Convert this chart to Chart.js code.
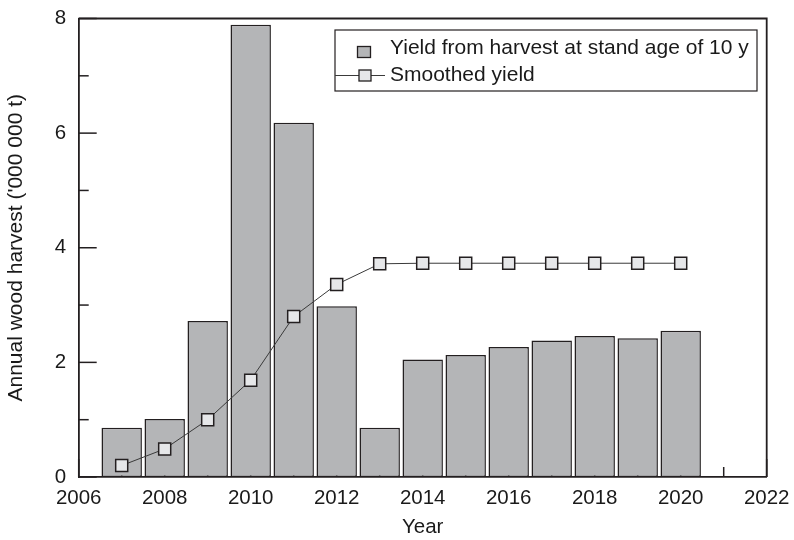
<!DOCTYPE html>
<html>
<head>
<meta charset="utf-8">
<script src="https://cdn.jsdelivr.net/npm/chart.js@4"></script>
<style>
  html, body { margin: 0; padding: 0; background: #fff; }
  #wrap { width: 794px; height: 540px; }
</style>
</head>
<body>
<div id="wrap"><canvas id="myChart" width="794" height="540"></canvas></div>
<script>
// data
const years = [2007, 2008, 2009, 2010, 2011, 2012, 2013, 2014, 2015, 2016, 2017, 2018, 2019, 2020];
const harvest = [0.86, 1.01, 2.72, 7.89, 6.18, 2.98, 0.86, 2.05, 2.13, 2.27, 2.38, 2.46, 2.42, 2.55];
const smoothed = [0.2, 0.49, 1.0, 1.69, 2.8, 3.36, 3.72, 3.73, 3.73, 3.73, 3.73, 3.73, 3.73, 3.73];
const xTicks = [2006, 2008, 2010, 2012, 2014, 2016, 2018, 2020, 2022];
const yTicks = [0, 2, 4, 6, 8];
const seriesNames = ["Yield from harvest at stand age of 10 y", "Smoothed yield"];

const ink = "#231f20";
const barGrey = "#b4b5b7";
const markGrey = "#e6e7e9";
const fontFam = "'Liberation Sans', Arial, sans-serif";

// inward tick marks, drawn under the bars
const tickPlugin = {
  id: "inTicks",
  beforeDatasetsDraw(chart) {
    const ctx = chart.ctx;
    const xs = chart.scales.x, ys = chart.scales.y;
    const area = chart.chartArea;
    ctx.save();
    ctx.strokeStyle = ink;
    ctx.lineWidth = 1.5;
    xs.ticks.forEach((t) => {
      const px = xs.getPixelForValue(t.value);
      const len = xTicks.includes(t.value) ? 18 : 10;
      ctx.beginPath();
      ctx.moveTo(px, area.bottom);
      ctx.lineTo(px, area.bottom - len);
      ctx.stroke();
    });
    ys.ticks.forEach((t) => {
      const py = ys.getPixelForValue(t.value);
      const len = yTicks.includes(t.value) ? 18 : 10;
      ctx.beginPath();
      ctx.moveTo(area.left, py);
      ctx.lineTo(area.left + len, py);
      ctx.stroke();
    });
    ctx.restore();
  },
  afterDatasetsDraw(chart) {
    // top and right frame lines
    const ctx = chart.ctx;
    const a = chart.chartArea;
    ctx.save();
    ctx.strokeStyle = ink;
    ctx.lineWidth = 1.8;
    ctx.beginPath();
    ctx.moveTo(a.left, a.top);
    ctx.lineTo(a.right, a.top);
    ctx.lineTo(a.right, a.bottom);
    ctx.stroke();
    ctx.restore();
  },
};

// legend box inside the plot
const legendPlugin = {
  id: "boxLegend",
  afterDraw(chart) {
    const ctx = chart.ctx;
    ctx.save();
    ctx.fillStyle = "#fff";
    ctx.fillRect(335, 30, 422, 61);
    ctx.strokeStyle = ink;
    ctx.lineWidth = 1.2;
    ctx.strokeRect(335, 30, 422, 61);

    // bar swatch
    ctx.fillStyle = barGrey;
    ctx.fillRect(357.5, 46.5, 13, 11);
    ctx.lineWidth = 1.3;
    ctx.strokeRect(357.5, 46.5, 13, 11);

    // line + marker swatch
    ctx.strokeStyle = "#3a3a3a";
    ctx.lineWidth = 1;
    ctx.beginPath();
    ctx.moveTo(335, 75.5);
    ctx.lineTo(385, 75.5);
    ctx.stroke();
    ctx.fillStyle = markGrey;
    ctx.fillRect(359, 70, 12, 11);
    ctx.strokeStyle = ink;
    ctx.lineWidth = 1.3;
    ctx.strokeRect(359, 70, 12, 11);

    ctx.fillStyle = "#1a1a1a";
    ctx.font = "21px " + fontFam;
    ctx.textBaseline = "alphabetic";
    ctx.fillText(seriesNames[0], 390, 54);
    ctx.fillText(seriesNames[1], 390, 81);
    ctx.restore();
  },
};

const context = document.getElementById("myChart").getContext("2d");
const myChart = new Chart(context, {
  type: "bar",
  data: {
    datasets: [
      {
        type: "line",
        label: seriesNames[1],
        data: years.map((x, i) => ({ x: x, y: smoothed[i] })),
        borderColor: "#3a3a3a",
        borderWidth: 1,
        pointStyle: "rect",
        pointRadius: 8.5,
        pointHoverRadius: 8.5,
        pointBackgroundColor: markGrey,
        pointBorderColor: ink,
        pointBorderWidth: 1.5,
        tension: 0,
        order: 0,
      },
      {
        label: seriesNames[0],
        data: years.map((x, i) => ({ x: x, y: harvest[i] })),
        backgroundColor: barGrey,
        borderColor: ink,
        borderWidth: 1.5,
        borderSkipped: false,
        barPercentage: 0.94,
        categoryPercentage: 1,
        order: 1,
      },
    ],
  },
  options: {
    responsive: false,
    animation: false,
    events: [],
    layout: { padding: { top: 18.5, right: 27.3, left: 0, bottom: 0 } },
    plugins: {
      legend: { display: false },
      tooltip: { enabled: false },
    },
    scales: {
      x: {
        type: "linear",
        min: 2006,
        max: 2022,
        offset: false,
        grid: { display: false, offset: false, drawTicks: false, tickLength: 0 },
        border: { display: true, color: ink, width: 1.8 },
        ticks: {
          stepSize: 1,
          autoSkip: false,
          maxRotation: 0,
          padding: 9,
          color: "#1a1a1a",
          font: { family: fontFam, size: 20.5 },
          callback: (v) => (xTicks.includes(v) ? String(v) : ""),
        },
        title: {
          display: true,
          text: "Year",
          color: "#1a1a1a",
          font: { family: fontFam, size: 20.5 },
          padding: 0,
        },
        afterFit: (s) => {
          s.height = 63;
          s.paddingLeft = 0;
          s.paddingRight = 0;
        },
      },
      y: {
        min: 0,
        max: 8,
        grid: { display: false, drawTicks: false, tickLength: 0 },
        border: { display: true, color: ink, width: 1.8 },
        ticks: {
          stepSize: 1,
          padding: 12.5,
          color: "#1a1a1a",
          font: { family: fontFam, size: 20.5 },
          callback: (v) => (yTicks.includes(v) ? String(v) : ""),
        },
        title: {
          display: true,
          text: "Annual wood harvest ('000 000 t)",
          color: "#1a1a1a",
          font: { family: fontFam, size: 21 },
          padding: { top: 4, bottom: 0 },
        },
        afterFit: (s) => {
          s.width = 78.7;
          s.paddingTop = 0;
          s.paddingBottom = 0;
        },
      },
    },
  },
  plugins: [tickPlugin, legendPlugin],
});
</script>
</body>
</html>
